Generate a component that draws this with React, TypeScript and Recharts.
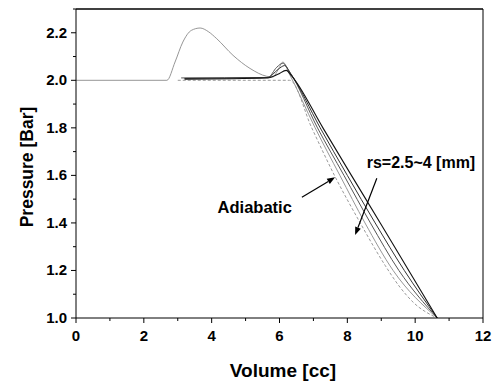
import React from 'react';
import { LineChart, Line, XAxis, YAxis, ReferenceLine, ReferenceDot } from 'recharts';

// Volume [cc] / Pressure [Bar] pairs
const humpCurve = [
  [0, 2.0], [2.68, 2.0], [2.92, 2.077], [3.15, 2.161], [3.4, 2.21], [3.66, 2.22],
  [3.9, 2.205], [4.15, 2.175], [4.63, 2.105], [5.13, 2.05], [5.62, 2.017], [5.8, 2.014],
  [5.98, 2.05], [6.1, 2.077], [6.28, 2.03], [7.05, 1.8], [7.78, 1.6], [8.52, 1.4],
  [9.35, 1.2], [10.65, 1.0],
];
const rs30 = [
  [3.1, 2.01], [5.66, 2.012], [5.92, 2.055], [6.1, 2.072], [6.3, 2.035], [7.12, 1.8],
  [7.9, 1.6], [8.68, 1.4], [9.52, 1.2], [10.65, 1.0],
];
const rs35 = [
  [3.2, 2.008], [5.66, 2.012], [5.95, 2.045], [6.15, 2.062], [6.32, 2.03], [7.2, 1.8],
  [8.0, 1.6], [8.82, 1.4], [9.68, 1.2], [10.65, 1.0],
];
const rs40 = [
  [3.2, 2.005], [5.66, 2.01], [5.95, 2.025], [6.2, 2.042], [6.35, 2.02], [7.28, 1.8],
  [8.12, 1.6], [8.97, 1.4], [9.81, 1.2], [10.65, 1.0],
];
const adiabatic = [
  [3.0, 2.0], [6.3, 2.0], [6.95, 1.8], [7.62, 1.6], [8.38, 1.4], [9.12, 1.22],
  [9.55, 1.13], [9.95, 1.065], [10.65, 1.0],
];

const xTicks = [0, 1, 2, 3, 4, 5, 6, 7, 8, 9, 10, 11, 12];
const yTicks = [1.0, 1.1, 1.2, 1.3, 1.4, 1.5, 1.6, 1.7, 1.8, 1.9, 2.0, 2.1, 2.2, 2.3];

const toPoints = (arr: number[][]) => arr.map(([v, p]) => ({ v, p }));

const font = 'Liberation Sans, Arial, sans-serif';

const XTick = (props: any) => {
  const { x, y, payload } = props;
  const major = payload.value % 2 === 0;
  return (
    <g>
      <line x1={x} y1={y} x2={x} y2={y + (major ? 5 : 3)} stroke='#000' />
      {major && (
        <text x={x} y={y + 23} textAnchor='middle' fontFamily={font} fontWeight='bold' fontSize={15} fill='#000'>
          {payload.value}
        </text>
      )}
    </g>
  );
};

const YTick = (props: any) => {
  const { x, y, payload } = props;
  const major = Math.round(payload.value * 10) % 2 === 0 && payload.value < 2.25;
  return (
    <g>
      <line x1={x} y1={y} x2={x - (major ? 5 : 3)} y2={y} stroke='#000' />
      {major && (
        <text x={x - 9} y={y + 5} textAnchor='end' fontFamily={font} fontWeight='bold' fontSize={15} fill='#000'>
          {payload.value.toFixed(1)}
        </text>
      )}
    </g>
  );
};

const Arrow = (props: any) => {
  const { x1, y1, x2, y2 } = props;
  if ([x1, y1, x2, y2].some((n) => n == null || isNaN(n))) return null;
  const ang = Math.atan2(y2 - y1, x2 - x1);
  const len = 8;
  const w = 3;
  const bx = x2 - len * Math.cos(ang);
  const by = y2 - len * Math.sin(ang);
  const px = -Math.sin(ang) * w;
  const py = Math.cos(ang) * w;
  return (
    <g>
      <line x1={x1} y1={y1} x2={bx} y2={by} stroke='#000' strokeWidth={1.2} />
      <polygon points={`${x2},${y2} ${bx + px},${by + py} ${bx - px},${by - py}`} fill='#000' />
    </g>
  );
};

const series = [
  { name: 'hump', data: humpCurve, color: '#8a8a8a', dash: undefined, width: 0.9 },
  { name: 'adiabatic', data: adiabatic, color: '#9a9a9a', dash: '3 2', width: 1 },
  { name: 'rs3.0', data: rs30, color: '#555', dash: undefined, width: 1 },
  { name: 'rs3.5', data: rs35, color: '#333', dash: undefined, width: 1 },
  { name: 'rs4.0', data: rs40, color: '#111', dash: undefined, width: 1.1 },
];

const App = () => {
  return (
    <div style={{ position: 'absolute', left: 0, top: 0, background: '#fff' }}>
      <LineChart width={501} height={384} margin={{ top: 9, right: 18, bottom: 0, left: 0 }}>
        <XAxis
          type='number'
          dataKey='v'
          domain={[0, 12]}
          ticks={xTicks}
          allowDataOverflow
          height={66}
          tickSize={0}
          tickMargin={0}
          tickLine={false}
          tick={<XTick />}
          stroke='#000'
          label={() => (
            <text x={283} y={377} textAnchor='middle' fontFamily={font} fontWeight='bold' fontSize={19} fill='#000'>
              Volume [cc]
            </text>
          )}
        />
        <YAxis
          type='number'
          dataKey='p'
          domain={[1.0, 2.3]}
          ticks={yTicks}
          allowDataOverflow
          width={76}
          tickSize={0}
          tickMargin={0}
          tickLine={false}
          tick={<YTick />}
          stroke='#000'
          label={() => (
            <text x={33} y={167} transform='rotate(-90 33 167)' textAnchor='middle' fontFamily={font} fontWeight='bold' fontSize={17.5} fill='#000'>
              Pressure [Bar]
            </text>
          )}
        />
        <ReferenceLine y={2.3} stroke='#000' strokeWidth={1.5} />
        <ReferenceLine x={12} stroke='#000' />
        {series.map((s) => (
          <Line
            key={s.name}
            data={toPoints(s.data)}
            dataKey='p'
            type='monotone'
            stroke={s.color}
            strokeWidth={s.width}
            strokeDasharray={s.dash}
            dot={false}
            isAnimationActive={false}
          />
        ))}
        <ReferenceLine segment={[{ x: 6.66, y: 1.508 }, { x: 7.64, y: 1.592 }]} shape={<Arrow />} />
        <ReferenceLine segment={[{ x: 8.87, y: 1.588 }, { x: 8.23, y: 1.349 }]} shape={<Arrow />} />
        <ReferenceDot
          x={5.27}
          y={1.465}
          r={0}
          label={{ value: 'Adiabatic', position: 'center', fontFamily: font, fontWeight: 'bold', fontSize: 16.5, fill: '#000' }}
        />
        <ReferenceDot
          x={10.17}
          y={1.655}
          r={0}
          label={{ value: 'rs=2.5~4 [mm]', position: 'center', fontFamily: font, fontWeight: 'bold', fontSize: 16, fill: '#000' }}
        />
      </LineChart>
    </div>
  );
};

export default App;
